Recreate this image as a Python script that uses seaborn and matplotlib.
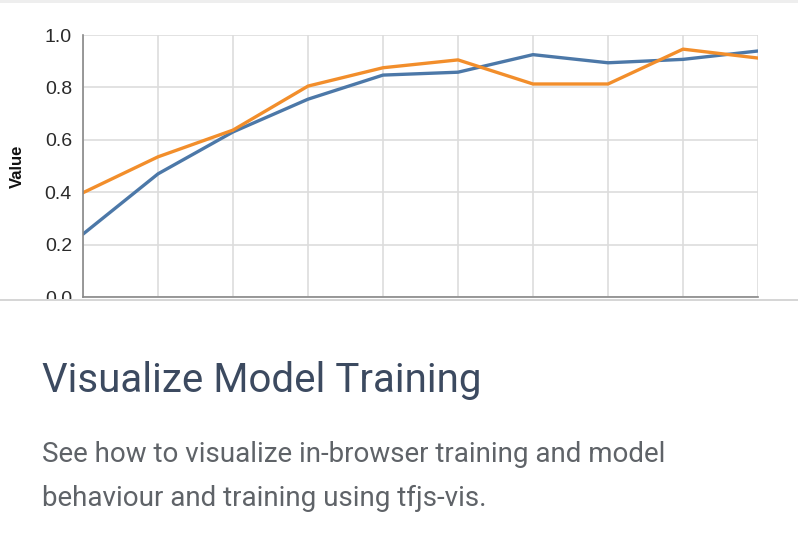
import numpy as np
import pandas as pd
import matplotlib.pyplot as plt
from matplotlib.patches import Rectangle
import seaborn as sns

# data
steps = [0, 1, 2, 3, 4, 5, 6, 7, 8, 9]
series_a = [0.24, 0.47, 0.63, 0.755, 0.847, 0.858, 0.925, 0.894, 0.907, 0.939]
series_b = [0.398, 0.535, 0.637, 0.805, 0.875, 0.905, 0.813, 0.813, 0.946, 0.912]
y_ticks = [0.0, 0.2, 0.4, 0.6, 0.8, 1.0]
title = "Visualize Model Training"
body_lines = ["See how to visualize in-browser training and model",
              "behaviour and training using tfjs-vis."]

df = pd.DataFrame({
    "step": steps * 2,
    "Value": series_a + series_b,
    "series": ["a"] * len(steps) + ["b"] * len(steps),
})

sns.set_style("white")
plt.rcParams['font.family'] = ['Liberation Sans', 'DejaVu Sans']

W, H = 798, 542
fig = plt.figure(figsize=(W / 100, H / 100), dpi=100)
ax = fig.add_axes([83 / W, 1 - 297 / H, (758 - 83) / W, (297 - 35) / H])

sns.lineplot(data=df, x="step", y="Value", hue="series",
             palette={"a": "#4c78a8", "b": "#f28e2b"},
             linewidth=2.4, legend=False, ax=ax)

ax.set_xlim(steps[0], steps[-1])
ax.set_ylim(0, 1)
ax.set_xticks(steps)
ax.set_xticklabels([])
ax.set_yticks(y_ticks)
ax.set_yticklabels([f"{v:.1f}" for v in y_ticks], fontsize=14, color="#2a2a2a")
ax.grid(True, color="#dddddd", linewidth=1.2)
ax.set_axisbelow(True)
for side in ["top", "right"]:
    ax.spines[side].set_visible(False)
for side in ["left", "bottom"]:
    ax.spines[side].set_color("#888888")
    ax.spines[side].set_linewidth(1.2)
ax.tick_params(axis="both", length=5, width=1, color="#888888", pad=3)
ax.set_xlabel("")
ax.set_ylabel("Value", fontsize=12, fontweight="bold", color="#111111", labelpad=14)

# card cut-off below the chart
fig.patches.append(Rectangle((0, 0), 1, 1 - 299 / H, transform=fig.transFigure,
                             facecolor="white", edgecolor="none", zorder=5))
fig.patches.append(Rectangle((0, 1 - 301 / H), 1, 2 / H, transform=fig.transFigure,
                             facecolor="#d6d6d6", edgecolor="none", zorder=6))
fig.patches.append(Rectangle((0, 1 - 3 / H), 1, 3 / H, transform=fig.transFigure,
                             facecolor="#eeeeee", edgecolor="none", zorder=6))

fig.text(42 / W, 1 - 392 / H, title, fontsize=29, color="#3c4a60",
         family=["Roboto", "DejaVu Sans"], va="baseline", zorder=7)
for i, line in enumerate(body_lines):
    fig.text(42 / W, 1 - (462 + 44 * i) / H, line, fontsize=20, color="#5f6368",
             family=["Roboto", "DejaVu Sans"], va="baseline", zorder=7)

fig.savefig("out.png", dpi=100, facecolor="white")
